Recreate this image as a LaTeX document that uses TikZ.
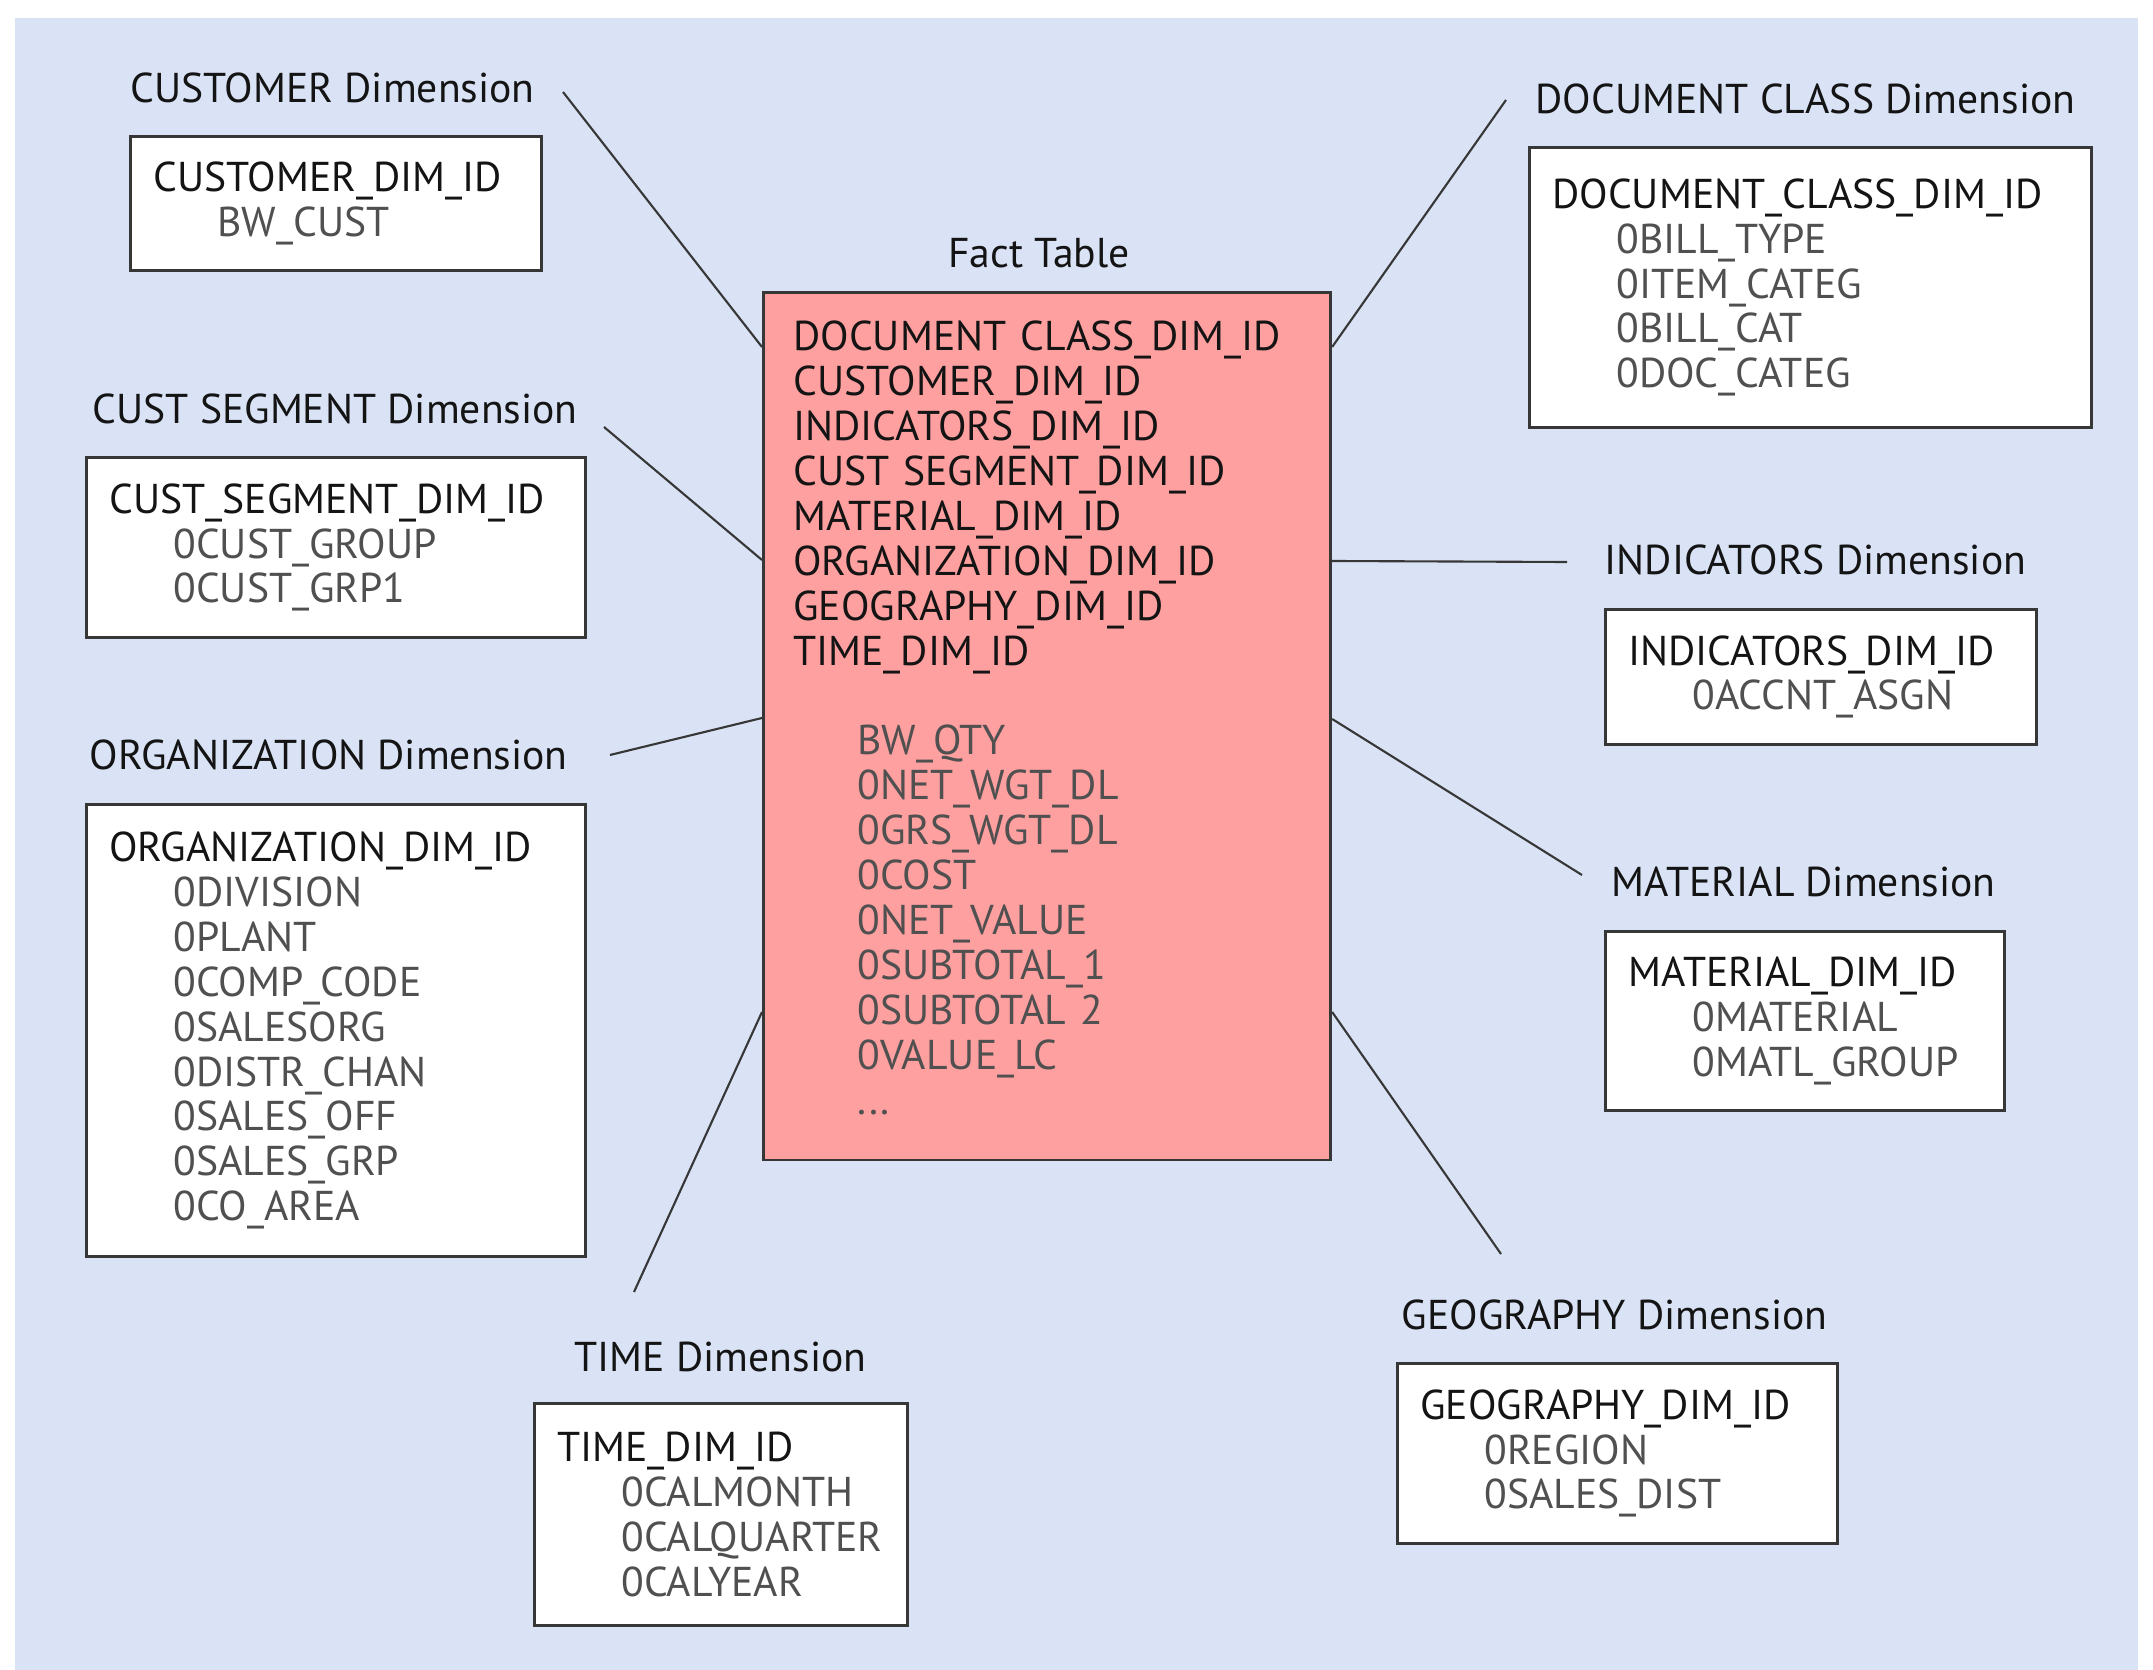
\documentclass[tikz,border=0pt]{standalone}
\usepackage{fontspec}
\setmainfont{PT Sans}
\usetikzlibrary{calc}

\definecolor{bgblue}{RGB}{217,227,245}
\definecolor{factred}{RGB}{255,160,160}
\definecolor{linegray}{RGB}{55,55,55}
\definecolor{textdark}{RGB}{20,20,20}
\definecolor{attrgray}{RGB}{80,80,80}

% indented attribute line inside a table box
\newcommand{\attr}[1]{\hspace*{0.64cm}\textcolor{attrgray}{#1}}

\begin{document}
\begin{tikzpicture}[x=0.01cm, y=-0.01cm,
  every node/.style={font=\fontsize{11.85}{12.78}\selectfont, text=textdark},
  dimlabel/.style={anchor=west, inner sep=0pt},
  dimbox/.style={draw=linegray, line width=0.8pt, fill=white, anchor=north west,
    align=left, inner xsep=0.23cm, inner ysep=0pt},
  factbox/.style={draw=linegray, line width=0.8pt, fill=factred, anchor=north west,
    align=left, inner xsep=0.3cm, inner ysep=0pt},
  link/.style={draw=linegray, line width=0.6pt}]

\useasboundingbox (0,0) rectangle (2153,1670);
\fill[bgblue] (15,18) rectangle (2138,1670);

% fact table in the middle
\node (factlabel) at (1039,253) {Fact Table};
\node[factbox, text width=5.07cm, minimum height=8.67cm] (fact) at (762,291) {%
DOCUMENT~CLASS\_DIM\_ID\\
CUSTOMER\_DIM\_ID\\
INDICATORS\_DIM\_ID\\
CUST~SEGMENT\_DIM\_ID\\
MATERIAL\_DIM\_ID\\
ORGANIZATION\_DIM\_ID\\
GEOGRAPHY\_DIM\_ID\\
TIME\_DIM\_ID\\[0.449cm]
\attr{BW\_QTY}\\
\attr{0NET\_WGT\_DL}\\
\attr{0GRS\_WGT\_DL}\\
\attr{0COST}\\
\attr{0NET\_VALUE}\\
\attr{0SUBTOTAL\_1}\\
\attr{0SUBTOTAL~2}\\
\attr{0VALUE\_LC}\\
\attr{...}\rule[-0.17cm]{0pt}{0pt}};

% left side
\node[dimlabel] (custlabel) at (130,88) {CUSTOMER Dimension};
\node[dimbox, text width=3.65cm, minimum height=1.34cm] (custbox) at (129,135) {%
CUSTOMER\_DIM\_ID\\
\attr{BW\_CUST}};

\node[dimlabel] (seglabel) at (92,409) {CUST SEGMENT Dimension};
\node[dimbox, text width=4.53cm, minimum height=1.80cm] (segbox) at (85,456) {%
CUST\_SEGMENT\_DIM\_ID\\
\attr{0CUST\_GROUP}\\
\attr{0CUST\_GRP1}};

\node[dimlabel] (orglabel) at (89,755) {ORGANIZATION Dimension};
\node[dimbox, text width=4.53cm, minimum height=4.52cm] (orgbox) at (85,803) {%
ORGANIZATION\_DIM\_ID\\
\attr{0DIVISION}\\
\attr{0PLANT}\\
\attr{0COMP\_CODE}\\
\attr{0SALESORG}\\
\attr{0DISTR\_CHAN}\\
\attr{0SALES\_OFF}\\
\attr{0SALES\_GRP}\\
\attr{0CO\_AREA}};

\node[dimlabel] (timelabel) at (574,1357) {TIME Dimension};
\node[dimbox, text width=3.27cm, minimum height=2.22cm] (timebox) at (533,1402) {%
TIME\_DIM\_ID\\
\attr{0CALMONTH}\\
\attr{0CALQUARTER}\\
\attr{0CALYEAR}};

% right side
\node[dimlabel] (doclabel) at (1535,99) {DOCUMENT CLASS Dimension};
\node[dimbox, text width=5.16cm, minimum height=2.80cm] (docbox) at (1528,146) {%
DOCUMENT\_CLASS\_DIM\_ID\\
\attr{0BILL\_TYPE}\\
\attr{0ITEM\_CATEG}\\
\attr{0BILL\_CAT}\\
\attr{0DOC\_CATEG}};

\node[dimlabel] (indlabel) at (1604,560) {INDICATORS Dimension};
\node[dimbox, text width=3.85cm, minimum height=1.35cm] (indbox) at (1604,608) {%
INDICATORS\_DIM\_ID\\
\attr{0ACCNT\_ASGN}};

\node[dimlabel] (matlabel) at (1611,882) {MATERIAL Dimension};
\node[dimbox, text width=3.53cm, minimum height=1.79cm] (matbox) at (1604,930) {%
MATERIAL\_DIM\_ID\\
\attr{0MATERIAL}\\
\attr{0MATL\_GROUP}};

\node[dimlabel] (geolabel) at (1401,1315) {GEOGRAPHY Dimension};
\node[dimbox, text width=3.94cm, minimum height=1.80cm] (geobox) at (1396,1362) {%
GEOGRAPHY\_DIM\_ID\\
\attr{0REGION}\\
\attr{0SALES\_DIST}};

% free ends of the links, next to the labels
\coordinate (c1) at (563,92);
\coordinate (c2) at (604,427);
\coordinate (c3) at (610,755);
\coordinate (c4) at (634,1292);
\coordinate (c5) at (1506,100);
\coordinate (c6) at (1567,562);
\coordinate (c7) at (1582,875);
\coordinate (c8) at (1501,1254);

\draw[link] (c1) -- ($(fact.north west)+(0,56)$);
\draw[link] (c2) -- ($(fact.north west)+(0,269)$);
\draw[link] (c3) -- ($(fact.north west)+(0,427)$);
\draw[link] (c4) -- ($(fact.north west)+(0,721)$);
\draw[link] (c5) -- ($(fact.north east)+(0,56)$);
\draw[link] (c6) -- ($(fact.north east)+(0,270)$);
\draw[link] (c7) -- ($(fact.north east)+(0,428)$);
\draw[link] (c8) -- ($(fact.north east)+(0,721)$);

\end{tikzpicture}
\end{document}
